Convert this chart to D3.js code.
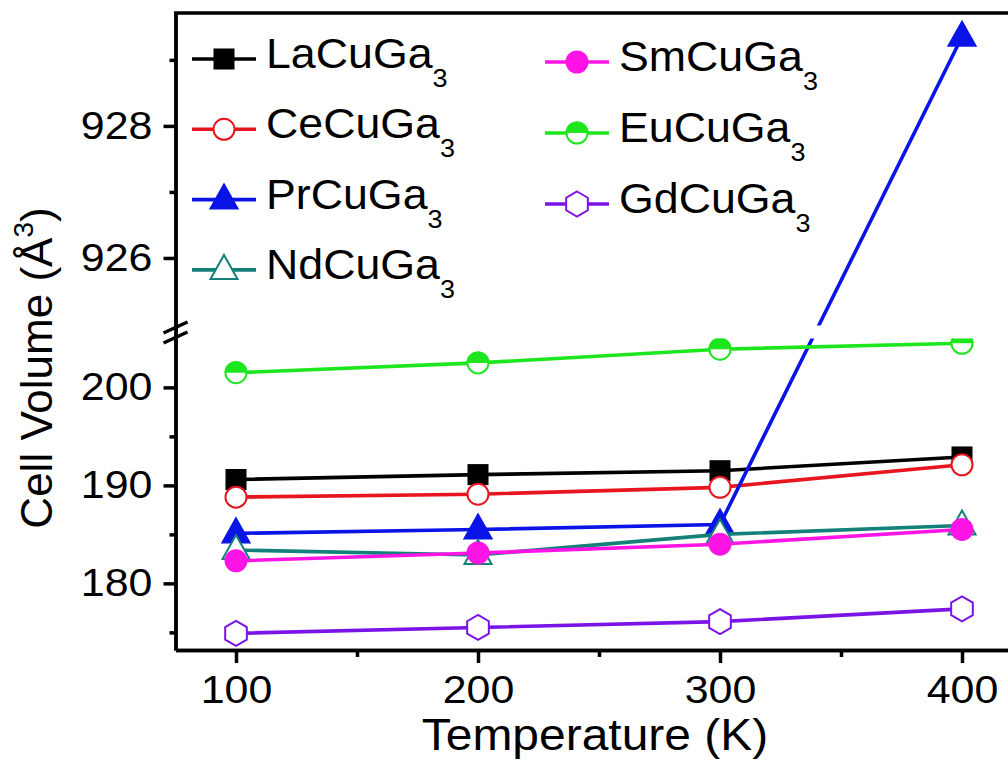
<!DOCTYPE html>
<html>
<head>
<meta charset="utf-8">
<script src="https://cdn.jsdelivr.net/npm/d3@7"></script>
<style>
  body { margin: 0; background: #fff; }
  svg text { font-family: "Liberation Sans", Arial, sans-serif; fill: #000; }
</style>
</head>
<body>
<div id="chart"></div>
<script>
// temperatures (K) and cell volumes (A^3)
const temps = [100, 200, 300, 400];
const laCuGa = [190.6, 191.1, 191.5, 192.9];
const ceCuGa = [188.8, 189.1, 189.8, 192.1];
const prCuGa = [185.1, 185.5, 186.0, 929.35];
const ndCuGa = [183.4, 182.9, 185.0, 185.9];
const smCuGa = [182.3, 183.1, 184.0, 185.5];
const euCuGa = [201.5, 202.5, 203.9, 204.5];
const gdCuGa = [174.9, 175.5, 176.1, 177.4];

const xTicks = [100, 200, 300, 400];
const xMinorTicks = [150, 250, 350];
const yTicksLow = [180, 190, 200];
const yMinorLow = [175, 185, 195];
const yTicksHigh = [926, 928];
const yMinorHigh = [927, 929];

const seriesNames = ['LaCuGa', 'CeCuGa', 'PrCuGa', 'NdCuGa', 'SmCuGa', 'EuCuGa', 'GdCuGa'];
const seriesValues = [laCuGa, ceCuGa, prCuGa, ndCuGa, smCuGa, euCuGa, gdCuGa];
const seriesColors = ['#000000', '#e8141e', '#0a14e6', '#13807a', '#ff14e6', '#1ee61e', '#7a14e6'];
const seriesSymbols = ['square', 'circle', 'triangle', 'triangleOpen', 'dot', 'halfCircle', 'hexagon'];

const width = 1008, height = 761;
const plotLeft = 175.5, plotRight = 1022.5, plotTop = 13, plotBottom = 650;
const breakLow = 205.0, breakHigh = 924.9;
const lowTop = 338.4, highBottom = 330.6;

const svg = d3.select('#chart').append('svg')
    .attr('width', width)
    .attr('height', height);

const x = d3.scaleLinear().domain([75, 425]).range([plotLeft, plotRight]);
// broken axis: two linear pieces joined across the break
const y = d3.scaleLinear()
    .domain([173.2, breakLow, breakHigh, 929.71])
    .range([plotBottom, lowTop, highBottom, plotTop]);

const defs = svg.append('defs');
defs.append('clipPath').attr('id', 'clipLow')
    .append('rect').attr('x', plotLeft).attr('y', lowTop)
    .attr('width', plotRight - plotLeft).attr('height', plotBottom - lowTop);
defs.append('clipPath').attr('id', 'clipHigh')
    .append('rect').attr('x', plotLeft).attr('y', plotTop)
    .attr('width', plotRight - plotLeft).attr('height', highBottom - 5 - plotTop);

// axes
svg.append('g')
    .attr('transform', `translate(0,${plotBottom})`)
    .call(d3.axisBottom(x).tickValues(xTicks).tickSize(13).tickSizeOuter(0).tickPadding(12));
svg.append('g')
    .attr('transform', `translate(0,${plotBottom})`)
    .call(d3.axisBottom(x).tickValues(xMinorTicks).tickSize(7).tickSizeOuter(0).tickFormat(''));

svg.append('g')
    .attr('transform', `translate(${plotLeft},0)`)
    .call(d3.axisLeft(y).tickValues(yTicksLow.concat(yTicksHigh)).tickSize(12).tickSizeOuter(0).tickPadding(9));
svg.append('g')
    .attr('transform', `translate(${plotLeft},0)`)
    .call(d3.axisLeft(y).tickValues(yMinorLow.concat(yMinorHigh)).tickSize(6).tickSizeOuter(0).tickFormat(''));

svg.selectAll('.domain, .tick line')
    .attr('stroke', '#000')
    .attr('stroke-width', 3.5);
svg.selectAll('.tick text')
    .attr('font-size', 39)
    .attr('font-family', '"Liberation Sans", Arial, sans-serif')
    .attr('transform', 'scale(1.1,1)');

// top frame
svg.append('line')
    .attr('x1', plotLeft - 1.5).attr('x2', plotRight)
    .attr('y1', plotTop).attr('y2', plotTop)
    .attr('stroke', '#000').attr('stroke-width', 3.5);

// break marks
[0, 10].forEach(off => {
    svg.append('line')
        .attr('x1', plotLeft - 12).attr('y1', 333 + off)
        .attr('x2', plotLeft + 12).attr('y2', 322 + off)
        .attr('stroke', '#000').attr('stroke-width', 3.5);
});

// axis titles
svg.append('text')
    .attr('transform', 'translate(595,750) scale(1.09,1)')
    .attr('text-anchor', 'middle')
    .attr('font-size', 44)
    .text('Temperature (K)');

const yTitle = svg.append('text')
    .attr('transform', 'translate(52,368) rotate(-90)')
    .attr('text-anchor', 'middle')
    .attr('font-size', 44);
yTitle.append('tspan').text('Cell Volume (Å');
yTitle.append('tspan').attr('font-size', 28).attr('dy', -19).text('3');
yTitle.append('tspan').attr('dy', 19).text(')');

// markers
function drawMarker(g, type, color, cx, cy) {
    if (type === 'square') {
        g.append('rect').attr('x', cx - 10.5).attr('y', cy - 10.5).attr('width', 21).attr('height', 21)
            .attr('fill', color);
    } else if (type === 'circle') {
        g.append('circle').attr('cx', cx).attr('cy', cy).attr('r', 10.5)
            .attr('fill', '#fff').attr('stroke', color).attr('stroke-width', 2);
    } else if (type === 'dot') {
        g.append('circle').attr('cx', cx).attr('cy', cy).attr('r', 11.5)
            .attr('fill', color);
    } else if (type === 'triangle' || type === 'triangleOpen') {
        const pts = [[cx, cy - 15], [cx + 13.5, cy + 9], [cx - 13.5, cy + 9]];
        g.append('path').attr('d', d3.line()(pts) + 'Z')
            .attr('fill', type === 'triangle' ? color : '#fff')
            .attr('stroke', color).attr('stroke-width', 2);
    } else if (type === 'halfCircle') {
        g.append('circle').attr('cx', cx).attr('cy', cy).attr('r', 10.5)
            .attr('fill', '#fff').attr('stroke', color).attr('stroke-width', 2);
        g.append('path')
            .attr('d', d3.arc().innerRadius(0).outerRadius(11.5).startAngle(-Math.PI / 2).endAngle(Math.PI / 2)())
            .attr('transform', `translate(${cx},${cy})`)
            .attr('fill', color);
    } else if (type === 'hexagon') {
        const pts = d3.range(6).map(i => {
            const a = Math.PI / 3 * i;
            return [cx + 12.5 * Math.sin(a), cy - 12.5 * Math.cos(a)];
        });
        g.append('path').attr('d', d3.line()(pts) + 'Z')
            .attr('fill', '#fff').attr('stroke', color).attr('stroke-width', 2);
    }
}

// series: line then markers, in legend order
const plot = svg.append('g');
const line = d3.line().x(d => x(d[0])).y(d => y(d[1]));
seriesValues.forEach((vals, i) => {
    const pts = temps.map((t, j) => [t, vals[j]]);
    const g = plot.append('g');
    ['clipLow', 'clipHigh'].forEach(c => {
        g.append('path')
            .attr('d', line(pts))
            .attr('clip-path', `url(#${c})`)
            .attr('fill', 'none')
            .attr('stroke', seriesColors[i])
            .attr('stroke-width', 3.6);
    });
    pts.forEach(p => {
        const mg = g.append('g')
            .attr('clip-path', p[1] <= breakLow ? 'url(#clipLow)' : 'url(#clipHigh)');
        drawMarker(mg, seriesSymbols[i], seriesColors[i], x(p[0]), y(p[1]));
    });
});

// legend
const legendCols = [
    { x: 192, y0: 59, step: 70.3, items: [0, 1, 2, 3] },
    { x: 545, y0: 62, step: 71, items: [4, 5, 6] }
];
legendCols.forEach(col => {
    col.items.forEach((idx, k) => {
        const ly = col.y0 + k * col.step;
        const lg = svg.append('g');
        lg.append('line')
            .attr('x1', col.x).attr('x2', col.x + 64)
            .attr('y1', ly).attr('y2', ly)
            .attr('stroke', seriesColors[idx]).attr('stroke-width', 3.6);
        drawMarker(lg, seriesSymbols[idx], seriesColors[idx], col.x + 32, ly);
        const t = lg.append('text')
            .attr('transform', `translate(${col.x + 74},${ly + 9}) scale(1.04,1)`)
            .attr('font-size', 43);
        t.append('tspan').text(seriesNames[idx]);
        t.append('tspan').attr('font-size', 26).attr('dy', 19).text('3');
    });
});
</script>
</body>
</html>
